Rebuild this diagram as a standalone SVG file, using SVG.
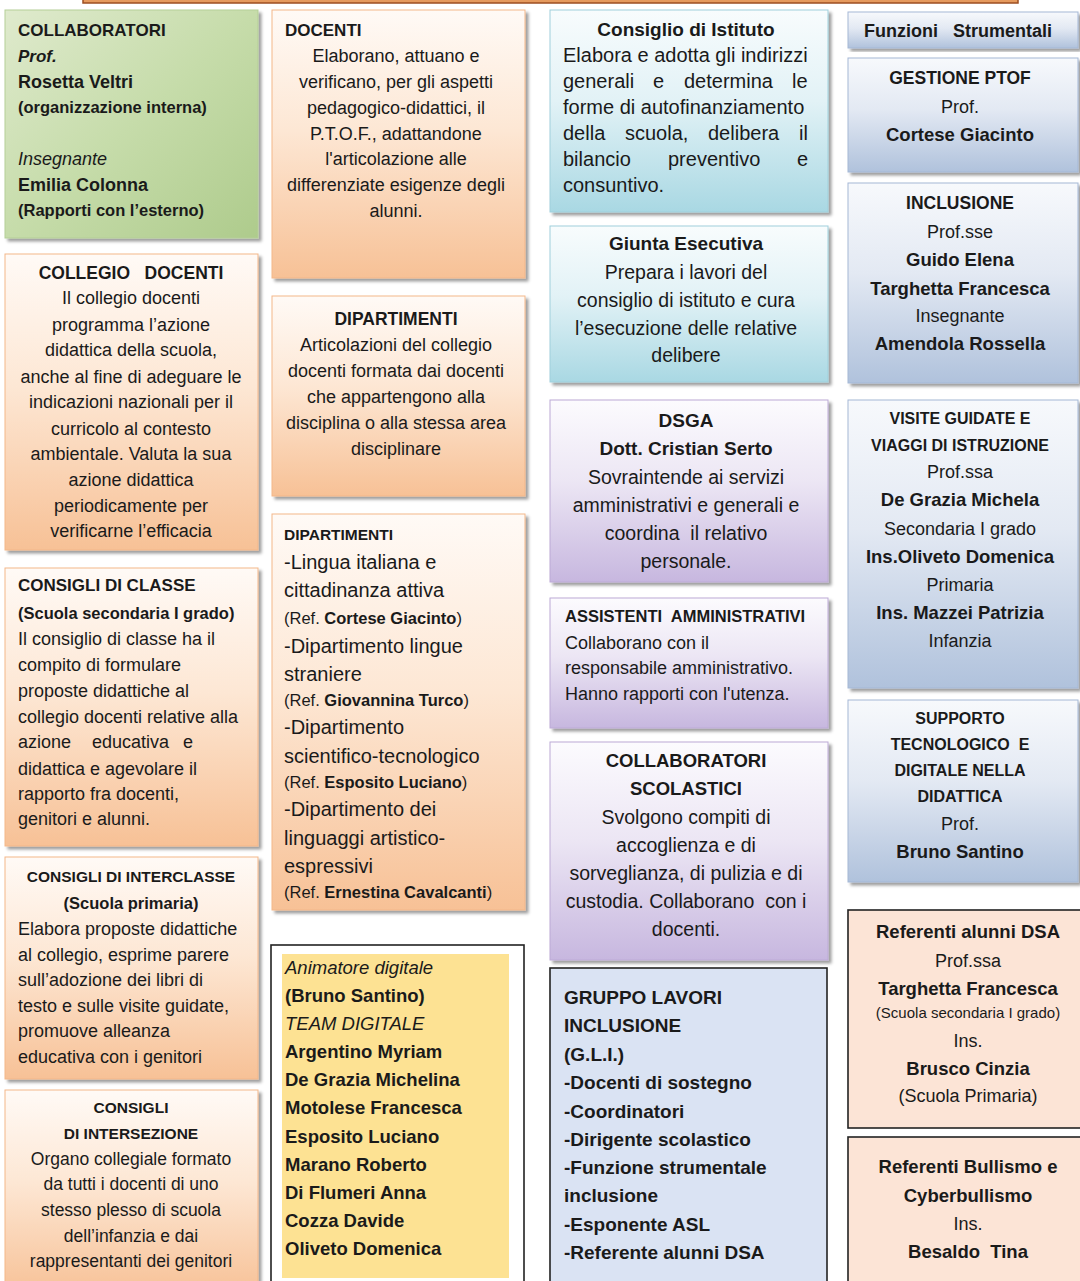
<svg xmlns="http://www.w3.org/2000/svg" width="1080" height="1281" viewBox="0 0 1080 1281">
<defs>
<linearGradient id="gGreen" x1="0" y1="0" x2="1" y2="1"><stop offset="0" stop-color="#dfeacd"/><stop offset="0.5" stop-color="#c6dcaa"/><stop offset="1" stop-color="#aecb8c"/></linearGradient>
<linearGradient id="gOrange" x1="0" y1="0" x2="0" y2="1"><stop offset="0" stop-color="#fffaf6"/><stop offset="0.45" stop-color="#fde7d4"/><stop offset="1" stop-color="#f7c196"/></linearGradient>
<linearGradient id="gCyan" x1="0" y1="0" x2="0" y2="1"><stop offset="0" stop-color="#f8fcfd"/><stop offset="0.45" stop-color="#e2f2f6"/><stop offset="1" stop-color="#a9d8e3"/></linearGradient>
<linearGradient id="gPurple" x1="0" y1="0" x2="0" y2="1"><stop offset="0" stop-color="#fcfbfe"/><stop offset="0.45" stop-color="#ece6f4"/><stop offset="1" stop-color="#c7b7df"/></linearGradient>
<linearGradient id="gSteel" x1="0" y1="0" x2="0" y2="1"><stop offset="0" stop-color="#f7f9fc"/><stop offset="0.45" stop-color="#e3e9f3"/><stop offset="1" stop-color="#b0c2dc"/></linearGradient>
<filter id="sh" x="-5%" y="-5%" width="115%" height="115%"><feDropShadow dx="3" dy="3" stdDeviation="1.6" flood-color="#000" flood-opacity="0.38"/></filter>
<style>
text{font-family:'Liberation Sans',Arial,sans-serif;fill:#1a1a1a;font-size:18px}
.b{font-weight:bold}
.i{font-style:italic}
.c{text-anchor:middle}
.green{fill:url(#gGreen);stroke:#b5cf97;stroke-width:1}
.orange{fill:url(#gOrange);stroke:#f3b78a;stroke-width:1}
.cyan{fill:url(#gCyan);stroke:#9fd0dc;stroke-width:1}
.purple{fill:url(#gPurple);stroke:#bcaad6;stroke-width:1}
.steel{fill:url(#gSteel);stroke:#a5b8d6;stroke-width:1}
.framed{stroke:#222;stroke-width:1.6}
</style>
</defs>
<rect width="1080" height="1281" fill="#ffffff"/>
<rect x="83" y="-8" width="935" height="11" fill="#e59a5e" stroke="#9c4e22" stroke-width="1.5"/>

<g id="connectors"/>

<!-- Column 1 -->
<g id="collaboratori">
<rect x="5" y="10" width="253" height="228" class="green" filter="url(#sh)"/>
<text x="18" y="36" class="b" style="font-size:17px">COLLABORATORI</text>
<text x="18" y="62" class="b i" style="font-size:17px">Prof.</text>
<text x="18" y="88" class="b" style="font-size:18px">Rosetta Veltri</text>
<text x="18" y="113" class="b" style="font-size:16.5px">(organizzazione interna)</text>
<text x="18" y="165" class="i" style="font-size:18px">Insegnante</text>
<text x="18" y="191" class="b" style="font-size:18px">Emilia Colonna</text>
<text x="18" y="216" class="b" style="font-size:16.5px">(Rapporti con l’esterno)</text>
</g>

<g id="collegio-docenti">
<rect x="5" y="254" width="253" height="296" class="orange" filter="url(#sh)"/>
<text x="131" y="279" class="b c" style="font-size:17.5px" xml:space="preserve">COLLEGIO   DOCENTI</text>
<text x="131" y="304" class="c">Il collegio docenti</text>
<text x="131" y="331" class="c">programma l’azione</text>
<text x="131" y="356" class="c">didattica della scuola,</text>
<text x="131" y="383" class="c">anche al fine di adeguare le</text>
<text x="131" y="408" class="c">indicazioni nazionali per il</text>
<text x="131" y="435" class="c">curricolo al contesto</text>
<text x="131" y="460" class="c">ambientale. Valuta la sua</text>
<text x="131" y="486" class="c">azione didattica</text>
<text x="131" y="512" class="c">periodicamente per</text>
<text x="131" y="537" class="c">verificarne l’efficacia</text>
</g>

<g id="consigli-classe">
<rect x="5" y="568" width="253" height="278" class="orange" filter="url(#sh)"/>
<text x="18" y="591" class="b" style="font-size:17px">CONSIGLI DI CLASSE</text>
<text x="18" y="619" class="b" style="font-size:16.5px">(Scuola secondaria I grado)</text>
<text x="18" y="645">Il consiglio di classe ha il</text>
<text x="18" y="671">compito di formulare</text>
<text x="18" y="697">proposte didattiche al</text>
<text x="18" y="723">collegio docenti relative alla</text>
<text y="748"><tspan x="18">azione</tspan><tspan x="92">educativa</tspan><tspan x="183">e</tspan></text>
<text x="18" y="775">didattica e agevolare il</text>
<text x="18" y="800">rapporto fra docenti,</text>
<text x="18" y="825">genitori e alunni.</text>
</g>

<g id="consigli-interclasse">
<rect x="5" y="857" width="253" height="222" class="orange" filter="url(#sh)"/>
<text x="131" y="882" class="b c" style="font-size:15.5px">CONSIGLI DI INTERCLASSE</text>
<text x="131" y="909" class="b c" style="font-size:16.5px">(Scuola primaria)</text>
<text x="18" y="935">Elabora proposte didattiche</text>
<text x="18" y="961">al collegio, esprime parere</text>
<text x="18" y="986">sull’adozione dei libri di</text>
<text x="18" y="1012">testo e sulle visite guidate,</text>
<text x="18" y="1037">promuove alleanza</text>
<text x="18" y="1063">educativa con i genitori</text>
</g>

<g id="consigli-intersezione">
<rect x="5" y="1090" width="253" height="205" class="orange" filter="url(#sh)"/>
<text x="131" y="1113" class="b c" style="font-size:15.5px">CONSIGLI</text>
<text x="131" y="1139" class="b c" style="font-size:15.5px">DI INTERSEZIONE</text>
<text x="131" y="1165" class="c" style="font-size:17.5px">Organo collegiale formato</text>
<text x="131" y="1190" class="c" style="font-size:17.5px">da tutti i docenti di uno</text>
<text x="131" y="1216" class="c" style="font-size:17.5px">stesso plesso di scuola</text>
<text x="131" y="1242" class="c" style="font-size:17.5px">dell’infanzia e dai</text>
<text x="131" y="1267" class="c" style="font-size:17.5px">rappresentanti dei genitori</text>
</g>

<!-- Column 2 -->
<g id="docenti">
<rect x="272" y="10" width="253" height="268" class="orange" filter="url(#sh)"/>
<text x="285" y="36" class="b" style="font-size:17px">DOCENTI</text>
<text x="396" y="62" class="c">Elaborano, attuano e</text>
<text x="396" y="88" class="c">verificano, per gli aspetti</text>
<text x="396" y="114" class="c">pedagogico-didattici, il</text>
<text x="396" y="140" class="c">P.T.O.F., adattandone</text>
<text x="396" y="165" class="c">l'articolazione alle</text>
<text x="396" y="191" class="c">differenziate esigenze degli</text>
<text x="396" y="217" class="c">alunni.</text>
</g>

<g id="dipartimenti">
<rect x="272" y="296" width="253" height="200" class="orange" filter="url(#sh)"/>
<text x="396" y="325" class="b c" style="font-size:17.5px">DIPARTIMENTI</text>
<text x="396" y="351" class="c">Articolazioni del collegio</text>
<text x="396" y="377" class="c">docenti formata dai docenti</text>
<text x="396" y="403" class="c">che appartengono alla</text>
<text x="396" y="429" class="c">disciplina o alla stessa area</text>
<text x="396" y="455" class="c">disciplinare</text>
</g>

<g id="dipartimenti-elenco">
<rect x="272" y="514" width="253" height="396" class="orange" filter="url(#sh)"/>
<text x="284" y="540" class="b" style="font-size:15.5px">DIPARTIMENTI</text>
<text x="284" y="569" style="font-size:20px">-Lingua italiana e</text>
<text x="284" y="597" style="font-size:20px">cittadinanza attiva</text>
<text x="284" y="624" style="font-size:16.5px">(Ref. <tspan class="b">Cortese Giacinto</tspan>)</text>
<text x="284" y="653" style="font-size:20px">-Dipartimento lingue</text>
<text x="284" y="681" style="font-size:20px">straniere</text>
<text x="284" y="706" style="font-size:16.5px">(Ref. <tspan class="b">Giovannina Turco</tspan>)</text>
<text x="284" y="734" style="font-size:20px">-Dipartimento</text>
<text x="284" y="763" style="font-size:20px">scientifico-tecnologico</text>
<text x="284" y="788" style="font-size:16.5px">(Ref. <tspan class="b">Esposito Luciano</tspan>)</text>
<text x="284" y="816" style="font-size:20px">-Dipartimento dei</text>
<text x="284" y="845" style="font-size:20px">linguaggi artistico-</text>
<text x="284" y="873" style="font-size:20px">espressivi</text>
<text x="284" y="898" style="font-size:16.5px">(Ref. <tspan class="b">Ernestina Cavalcanti</tspan>)</text>
</g>

<g id="animatore-digitale">
<rect x="271" y="945" width="253" height="345" fill="#ffffff" class="framed"/>
<rect x="282" y="954" width="227" height="324" fill="#fde293"/>
<text x="285" y="974" class="i" style="font-size:18.5px">Animatore digitale</text>
<text x="285" y="1002" class="b" style="font-size:18.5px">(Bruno Santino)</text>
<text x="285" y="1030" class="i" style="font-size:18.5px">TEAM DIGITALE</text>
<text x="285" y="1058" class="b" style="font-size:18.5px">Argentino Myriam</text>
<text x="285" y="1086" class="b" style="font-size:18.5px">De Grazia Michelina</text>
<text x="285" y="1114" class="b" style="font-size:18.5px">Motolese Francesca</text>
<text x="285" y="1143" class="b" style="font-size:18.5px">Esposito Luciano</text>
<text x="285" y="1171" class="b" style="font-size:18.5px">Marano Roberto</text>
<text x="285" y="1199" class="b" style="font-size:18.5px">Di Flumeri Anna</text>
<text x="285" y="1227" class="b" style="font-size:18.5px">Cozza Davide</text>
<text x="285" y="1255" class="b" style="font-size:18.5px">Oliveto Domenica</text>
</g>

<!-- Column 3 -->
<g id="consiglio-istituto">
<rect x="550" y="10" width="278" height="202" class="cyan" filter="url(#sh)"/>
<text x="686" y="36" class="b c" style="font-size:19px">Consiglio di Istituto</text>
<text x="563" y="62" style="font-size:20px">Elabora e adotta gli indirizzi</text>
<text y="88" style="font-size:20px"><tspan x="563">generali</tspan><tspan x="653">e</tspan><tspan x="684">determina</tspan><tspan x="792">le</tspan></text>
<text x="563" y="114" style="font-size:20px">forme di autofinanziamento</text>
<text y="140" style="font-size:20px"><tspan x="563">della</tspan><tspan x="625">scuola,</tspan><tspan x="708">delibera</tspan><tspan x="799">il</tspan></text>
<text y="166" style="font-size:20px"><tspan x="563">bilancio</tspan><tspan x="668">preventivo</tspan><tspan x="797">e</tspan></text>
<text x="563" y="192" style="font-size:20px">consuntivo.</text>
</g>

<g id="giunta-esecutiva">
<rect x="550" y="226" width="278" height="156" class="cyan" filter="url(#sh)"/>
<text x="686" y="250" class="b c" style="font-size:19px">Giunta Esecutiva</text>
<text x="686" y="279" class="c" style="font-size:19.5px">Prepara i lavori del</text>
<text x="686" y="307" class="c" style="font-size:19.5px">consiglio di istituto e cura</text>
<text x="686" y="335" class="c" style="font-size:19.5px">l’esecuzione delle relative</text>
<text x="686" y="362" class="c" style="font-size:19.5px">delibere</text>
</g>

<g id="dsga">
<rect x="550" y="400" width="278" height="182" class="purple" filter="url(#sh)"/>
<text x="686" y="427" class="b c" style="font-size:19px">DSGA</text>
<text x="686" y="455" class="b c" style="font-size:19px">Dott. Cristian Serto</text>
<text x="686" y="484" class="c" style="font-size:19.5px">Sovraintende ai servizi</text>
<text x="686" y="512" class="c" style="font-size:19.5px">amministrativi e generali e</text>
<text x="686" y="540" class="c" style="font-size:19.5px" xml:space="preserve">coordina  il relativo</text>
<text x="686" y="568" class="c" style="font-size:19.5px">personale.</text>
</g>

<g id="assistenti-amministrativi">
<rect x="550" y="598" width="278" height="130" class="purple" filter="url(#sh)"/>
<text x="565" y="622" class="b" style="font-size:16.5px" xml:space="preserve">ASSISTENTI  AMMINISTRATIVI</text>
<text x="565" y="649" style="font-size:18px">Collaborano con il</text>
<text x="565" y="674" style="font-size:18px">responsabile amministrativo.</text>
<text x="565" y="700" style="font-size:18px">Hanno rapporti con l'utenza.</text>
</g>

<g id="collaboratori-scolastici">
<rect x="550" y="742" width="278" height="218" class="purple" filter="url(#sh)"/>
<text x="686" y="767" class="b c" style="font-size:18.5px">COLLABORATORI</text>
<text x="686" y="795" class="b c" style="font-size:18.5px">SCOLASTICI</text>
<text x="686" y="824" class="c" style="font-size:19.5px">Svolgono compiti di</text>
<text x="686" y="852" class="c" style="font-size:19.5px">accoglienza e di</text>
<text x="686" y="880" class="c" style="font-size:19.5px">sorveglianza, di pulizia e di</text>
<text x="686" y="908" class="c" style="font-size:19.5px" xml:space="preserve">custodia. Collaborano  con i</text>
<text x="686" y="936" class="c" style="font-size:19.5px">docenti.</text>
</g>

<g id="gruppo-lavori-inclusione">
<rect x="550" y="968" width="277" height="330" fill="#dae3f3" class="framed"/>
<text x="564" y="1004" class="b" style="font-size:19px">GRUPPO LAVORI</text>
<text x="564" y="1032" class="b" style="font-size:19px">INCLUSIONE</text>
<text x="564" y="1061" class="b" style="font-size:19px">(G.L.I.)</text>
<text x="564" y="1089" class="b" style="font-size:19px">-Docenti di sostegno</text>
<text x="564" y="1118" class="b" style="font-size:19px">-Coordinatori</text>
<text x="564" y="1146" class="b" style="font-size:19px">-Dirigente scolastico</text>
<text x="564" y="1174" class="b" style="font-size:19px">-Funzione strumentale</text>
<text x="564" y="1202" class="b" style="font-size:19px">inclusione</text>
<text x="564" y="1231" class="b" style="font-size:19px">-Esponente ASL</text>
<text x="564" y="1259" class="b" style="font-size:19px">-Referente alunni DSA</text>
</g>

<!-- Column 4 -->
<g id="funzioni-strumentali">
<rect x="848" y="12" width="230" height="36" class="steel" filter="url(#sh)"/>
<text x="958" y="37" class="b c" style="font-size:18px" xml:space="preserve">Funzioni   Strumentali</text>
</g>

<g id="gestione-ptof">
<rect x="848" y="58" width="230" height="114" class="steel" filter="url(#sh)"/>
<text x="960" y="84" class="b c" style="font-size:17.5px">GESTIONE PTOF</text>
<text x="960" y="113" class="c">Prof.</text>
<text x="960" y="141" class="b c" style="font-size:18.5px">Cortese Giacinto</text>
</g>

<g id="inclusione">
<rect x="848" y="183" width="230" height="200" class="steel" filter="url(#sh)"/>
<text x="960" y="209" class="b c" style="font-size:17.5px">INCLUSIONE</text>
<text x="960" y="238" class="c">Prof.sse</text>
<text x="960" y="266" class="b c" style="font-size:18.5px">Guido Elena</text>
<text x="960" y="295" class="b c" style="font-size:18.5px">Targhetta Francesca</text>
<text x="960" y="322" class="c">Insegnante</text>
<text x="960" y="350" class="b c" style="font-size:18.5px">Amendola Rossella</text>
</g>

<g id="visite-guidate">
<rect x="848" y="400" width="230" height="288" class="steel" filter="url(#sh)"/>
<text x="960" y="424" class="b c" style="font-size:16px">VISITE GUIDATE E</text>
<text x="960" y="451" class="b c" style="font-size:16px">VIAGGI DI ISTRUZIONE</text>
<text x="960" y="478" class="c">Prof.ssa</text>
<text x="960" y="506" class="b c" style="font-size:18.5px">De Grazia Michela</text>
<text x="960" y="535" class="c">Secondaria I grado</text>
<text x="960" y="563" class="b c" style="font-size:18.5px">Ins.Oliveto Domenica</text>
<text x="960" y="591" class="c">Primaria</text>
<text x="960" y="619" class="b c" style="font-size:18.5px">Ins. Mazzei Patrizia</text>
<text x="960" y="647" class="c">Infanzia</text>
</g>

<g id="supporto-tecnologico">
<rect x="848" y="700" width="230" height="182" class="steel" filter="url(#sh)"/>
<text x="960" y="724" class="b c" style="font-size:16px">SUPPORTO</text>
<text x="960" y="750" class="b c" style="font-size:16px" xml:space="preserve">TECNOLOGICO  E</text>
<text x="960" y="776" class="b c" style="font-size:16px">DIGITALE NELLA</text>
<text x="960" y="802" class="b c" style="font-size:16px">DIDATTICA</text>
<text x="960" y="830" class="c">Prof.</text>
<text x="960" y="858" class="b c" style="font-size:18.5px">Bruno Santino</text>
</g>

<g id="referenti-dsa">
<rect x="848" y="910" width="234" height="218" fill="#fce4d6" class="framed"/>
<text x="968" y="938" class="b c" style="font-size:18.5px">Referenti alunni DSA</text>
<text x="968" y="967" class="c">Prof.ssa</text>
<text x="968" y="995" class="b c" style="font-size:18.5px">Targhetta Francesca</text>
<text x="968" y="1018" class="c" style="font-size:15px">(Scuola secondaria I grado)</text>
<text x="968" y="1047" class="c">Ins.</text>
<text x="968" y="1075" class="b c" style="font-size:18.5px">Brusco Cinzia</text>
<text x="968" y="1102" class="c">(Scuola Primaria)</text>
</g>

<g id="referenti-bullismo">
<rect x="848" y="1137" width="234" height="160" fill="#fce4d6" class="framed"/>
<text x="968" y="1173" class="b c" style="font-size:18.5px">Referenti Bullismo e</text>
<text x="968" y="1202" class="b c" style="font-size:18.5px">Cyberbullismo</text>
<text x="968" y="1230" class="c">Ins.</text>
<text x="968" y="1258" class="b c" style="font-size:18.5px" xml:space="preserve">Besaldo  Tina</text>
</g>
</svg>
